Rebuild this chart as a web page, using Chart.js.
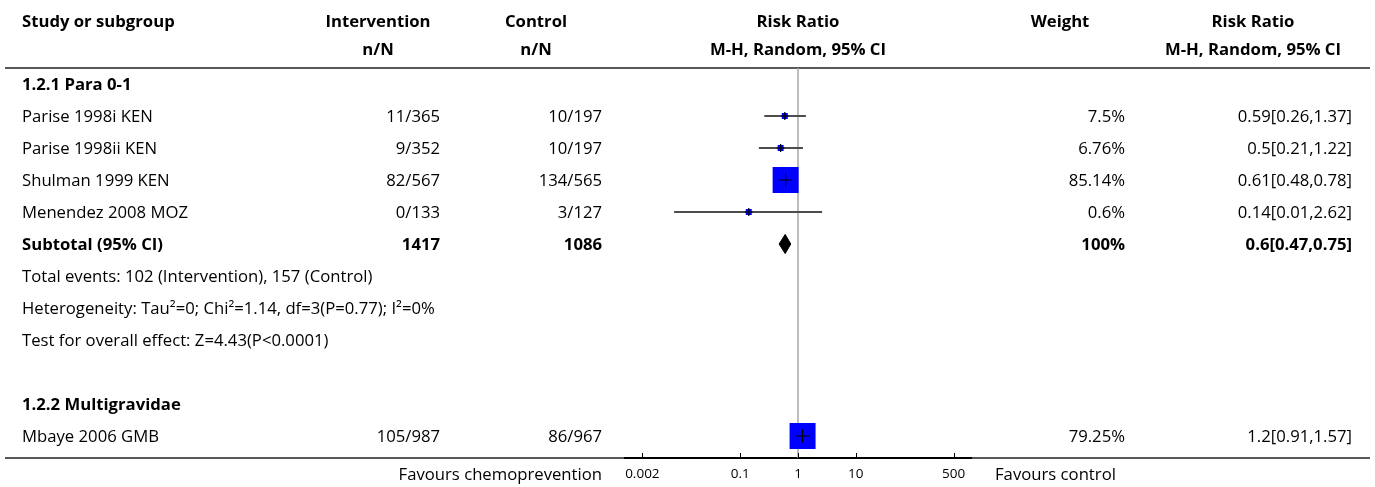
<!DOCTYPE html>
<html>
<head>
<meta charset="utf-8">
<script src="https://cdn.jsdelivr.net/npm/chart.js@4.4.1/dist/chart.umd.min.js"></script>
<style>
  html, body { margin: 0; padding: 0; background: #fff; }
  canvas { display: block; }
</style>
</head>
<body>
<canvas id="forest" width="1375" height="487"></canvas>
<script>
// rows of the table, top to bottom
const rowLabels = [
    '1.2.1 Para 0-1',
    'Parise 1998i KEN',
    'Parise 1998ii KEN',
    'Shulman 1999 KEN',
    'Menendez 2008 MOZ',
    'Subtotal (95% CI)',
    'Total events: 102 (Intervention), 157 (Control)',
    'Heterogeneity: Tau²=0; Chi²=1.14, df=3(P=0.77); I²=0%',
    'Test for overall effect: Z=4.43(P<0.0001)',
    '',
    '1.2.2 Multigravidae',
    'Mbaye 2006 GMB'
];
const boldRows = [0, 5, 10];

// studies
const studyRows = [1, 2, 3, 4, 11];
const interventionNN = ['11/365', '9/352', '82/567', '0/133', '105/987'];
const controlNN = ['10/197', '10/197', '134/565', '3/127', '86/967'];
const weights = [7.5, 6.76, 85.14, 0.6, 79.25];
const rr = [0.59, 0.5, 0.61, 0.14, 1.2];
const rrLow = [0.26, 0.21, 0.48, 0.0071, 0.91];
const rrHigh = [1.37, 1.22, 0.78, 2.62, 1.57];

// subtotal of 1.2.1
const subtotalRow = 5;
const subtotalN = ['1417', '1086'];
const subtotalWeight = 100;
const subtotalRR = 0.6;
const subtotalLow = 0.47;
const subtotalHigh = 0.75;

const xTicks = [0.002, 0.1, 1, 10, 500];

const FONT = '"Open Sans"';
const FS = 16.7;
const Y_MIN = -0.5, Y_MAX = 11.6875;

function fmt(v) {
    return String(Number(v.toFixed(2)));
}
function ciText(e, l, h) {
    return `${fmt(e)}[${fmt(l)},${fmt(h)}]`;
}
// box side in px from weight
function boxSide(w) {
    return Math.min(26, Math.max(6, w * 0.33));
}

const datasets = [];

// line of no effect
datasets.push({
    data: [{x: 1, y: Y_MIN}, {x: 1, y: Y_MAX}],
    showLine: true, borderColor: '#a8a8a8', borderWidth: 1.5, pointRadius: 0, order: 10
});

// confidence intervals
studyRows.forEach((r, i) => {
    datasets.push({
        data: [{x: rrLow[i], y: r}, {x: rrHigh[i], y: r}],
        showLine: true, borderColor: '#4d4d4d', borderWidth: 2, pointRadius: 0, order: 8
    });
});

// weight boxes
datasets.push({
    data: studyRows.map((r, i) => ({x: rr[i], y: r})),
    pointStyle: 'rect',
    pointRadius: weights.map(w => boxSide(w) / Math.SQRT2),
    backgroundColor: '#0000ff', borderWidth: 0, order: 6
});

// point estimate crosses
datasets.push({
    data: studyRows.map((r, i) => ({x: rr[i], y: r})),
    pointStyle: 'cross',
    pointRadius: weights.map(w => boxSide(w) > 10 ? 6.5 : 4),
    borderColor: '#000', borderWidth: 1.2, order: 4
});

// subtotal diamond
datasets.push({
    data: [
        {x: subtotalLow, y: subtotalRow},
        {x: subtotalRR, y: subtotalRow - 0.3},
        {x: subtotalHigh, y: subtotalRow},
        {x: subtotalRR, y: subtotalRow + 0.3},
        {x: subtotalLow, y: subtotalRow}
    ],
    showLine: true, fill: 'shape', backgroundColor: '#000', borderColor: '#000',
    borderWidth: 1, pointRadius: 0, order: 2
});

const tablePlugin = {
    id: 'tablePlugin',
    beforeDraw(chart) {
        const c = chart.ctx;
        c.save();
        c.strokeStyle = '#222';
        c.lineWidth = 1.5;
        c.beginPath();
        c.moveTo(5, chart.chartArea.top);
        c.lineTo(1370, chart.chartArea.top);
        c.moveTo(5, chart.chartArea.bottom);
        c.lineTo(1370, chart.chartArea.bottom);
        c.stroke();
        c.restore();
    },
    afterDraw(chart) {
        const c = chart.ctx;
        const area = chart.chartArea;
        const xScale = chart.scales.x;
        const yScale = chart.scales.y;
        const rowY = r => yScale.getPixelForValue(r) + 1;
        const plotMid = (area.left + area.right) / 2;
        const reg = `${FS}px ${FONT}`;
        const bold = `bold ${FS}px ${FONT}`;

        c.save();
        c.fillStyle = '#000';
        c.textBaseline = 'middle';

        // inward tick marks
        c.strokeStyle = '#000';
        c.lineWidth = 1;
        xTicks.forEach(v => {
            const px = Math.round(xScale.getPixelForValue(v)) + 0.5;
            c.beginPath();
            c.moveTo(px, area.bottom);
            c.lineTo(px, area.bottom - 5);
            c.stroke();
        });

        // header
        c.font = bold;
        c.textAlign = 'left';
        c.fillText('Study or subgroup', 22, 22);
        c.textAlign = 'center';
        c.fillText('Intervention', 378, 22);
        c.fillText('n/N', 378, 50);
        c.fillText('Control', 536, 22);
        c.fillText('n/N', 536, 50);
        c.fillText('Risk Ratio', plotMid, 22);
        c.fillText('M-H, Random, 95% CI', plotMid, 50);
        c.fillText('Weight', 1060, 22);
        c.fillText('Risk Ratio', 1253, 22);
        c.fillText('M-H, Random, 95% CI', 1253, 50);

        // row labels
        rowLabels.forEach((label, r) => {
            c.font = boldRows.includes(r) ? bold : reg;
            c.textAlign = 'left';
            c.fillText(label, 22, rowY(r));
        });

        // study values
        c.font = reg;
        c.textAlign = 'right';
        studyRows.forEach((r, i) => {
            c.fillText(interventionNN[i], 440, rowY(r));
            c.fillText(controlNN[i], 602, rowY(r));
            c.fillText(weights[i] + '%', 1125, rowY(r));
            c.fillText(ciText(rr[i], rrLow[i], rrHigh[i]), 1352, rowY(r));
        });

        // subtotal values
        c.font = bold;
        c.fillText(subtotalN[0], 440, rowY(subtotalRow));
        c.fillText(subtotalN[1], 602, rowY(subtotalRow));
        c.fillText(subtotalWeight + '%', 1125, rowY(subtotalRow));
        c.fillText(ciText(subtotalRR, subtotalLow, subtotalHigh), 1352, rowY(subtotalRow));

        // favours labels
        c.font = reg;
        c.textAlign = 'right';
        c.fillText('Favours chemoprevention', 602, 475);
        c.textAlign = 'left';
        c.fillText('Favours control', 995, 475);
        c.restore();
    }
};

new Chart(document.getElementById('forest'), {
    type: 'scatter',
    data: {datasets: datasets},
    options: {
        responsive: false,
        animation: false,
        layout: {padding: {left: 625, right: 404, top: 68, bottom: 5}},
        plugins: {
            legend: {display: false},
            tooltip: {enabled: false}
        },
        scales: {
            x: {
                type: 'logarithmic',
                min: 0.001,
                max: 1000,
                afterBuildTicks: scale => {
                    scale.ticks = xTicks.map(v => ({value: v}));
                },
                afterFit: scale => {
                    scale.height = 24;
                },
                grid: {display: false, drawTicks: false},
                border: {display: true, color: '#000', width: 2},
                ticks: {
                    autoSkip: false,
                    maxRotation: 0,
                    padding: 8,
                    color: '#000',
                    font: {family: 'Open Sans', size: 13.5},
                    callback: v => String(v)
                }
            },
            y: {
                type: 'linear',
                reverse: true,
                min: Y_MIN,
                max: Y_MAX,
                display: false
            }
        }
    },
    plugins: [tablePlugin]
});
</script>
</body>
</html>
